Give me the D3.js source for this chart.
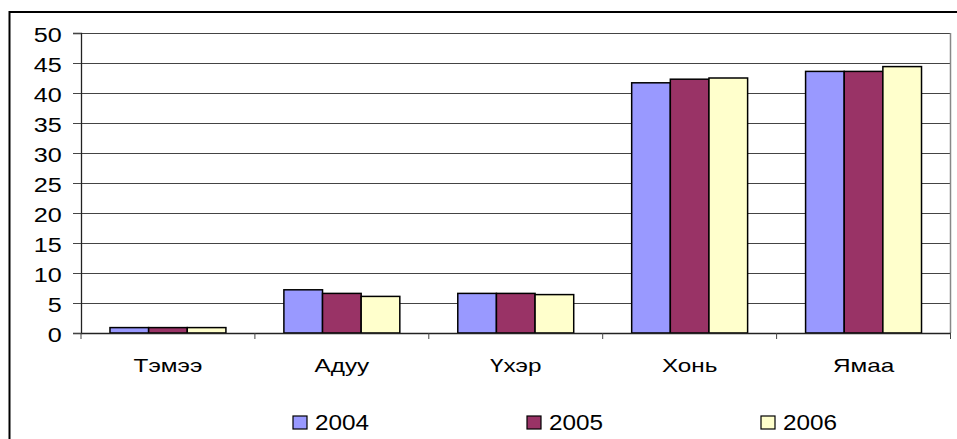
<!DOCTYPE html>
<html>
<head>
<meta charset="utf-8">
<script src="https://cdn.jsdelivr.net/npm/d3@7"></script>
<style>
  body { margin: 0; background: #fff; }
  text { font-family: "Liberation Sans", Arial, sans-serif; }
</style>
</head>
<body>
<div id="chart"></div>
<script>
const categories = ["Тэмээ", "Адуу", "Үхэр", "Хонь", "Ямаа"];
const years = ["2004", "2005", "2006"];
const v2004 = [0.9, 7.2, 6.6, 41.7, 43.6];
const v2005 = [0.9, 6.6, 6.6, 42.3, 43.6];
const v2006 = [0.9, 6.1, 6.4, 42.5, 44.4];
const yTicks = [0, 5, 10, 15, 20, 25, 30, 35, 40, 45, 50];
const colors = ["#9999FF", "#993366", "#FFFFCC"];

const series = [v2004, v2005, v2006];
const data = categories.map((c, i) => ({cat: c, vals: series.map(s => s[i])}));

const width = 957, height = 439;
const plot = {left: 81, right: 950.5, top: 33, bottom: 333};

const svg = d3.select("#chart").append("svg")
    .attr("width", width)
    .attr("height", height);

// outer chart border (right and bottom edges fall outside the picture)
svg.append("rect")
    .attr("x", 9.5).attr("y", 12)
    .attr("width", 960).attr("height", 440)
    .attr("fill", "white")
    .attr("stroke", "black")
    .attr("stroke-width", 2);

const x = d3.scaleBand()
    .domain(categories)
    .range([plot.left, plot.right])
    .paddingInner(0).paddingOuter(0);

// bars take 3/(3+1.5) of the category width (gap width 150%)
const groupW = x.bandwidth() * 3 / 4.5;
const x1 = d3.scaleBand()
    .domain(years)
    .range([0, groupW]);

const y = d3.scaleLinear()
    .domain([0, 50])
    .range([plot.bottom, plot.top]);

// gridlines
svg.append("g")
    .selectAll("line")
    .data(yTicks.filter(d => d > 0))
    .enter()
    .append("line")
    .attr("x1", plot.left).attr("x2", plot.right)
    .attr("y1", d => Math.round(y(d)) + 0.5)
    .attr("y2", d => Math.round(y(d)) + 0.5)
    .attr("stroke", "#444")
    .attr("stroke-width", 1.2);

// plot area right border
svg.append("line")
    .attr("x1", plot.right).attr("x2", plot.right)
    .attr("y1", plot.top).attr("y2", plot.bottom)
    .attr("stroke", "#888")
    .attr("stroke-width", 1.5);

// bars
const groups = svg.append("g")
    .selectAll("g")
    .data(data)
    .enter()
    .append("g")
    .attr("transform", d => `translate(${x(d.cat) + (x.bandwidth() - groupW) / 2},0)`);

groups.selectAll("rect")
    .data(d => d.vals.map((v, i) => ({year: years[i], v: v, i: i})))
    .enter()
    .append("rect")
    .attr("x", d => x1(d.year))
    .attr("y", d => y(d.v))
    .attr("width", x1.bandwidth())
    .attr("height", d => y(0) - y(d.v))
    .attr("fill", d => colors[d.i])
    .attr("stroke", "black")
    .attr("stroke-width", 1.5);

// y axis
const yAxis = svg.append("g")
    .attr("transform", `translate(${plot.left},0)`)
    .call(d3.axisLeft(y).tickValues(yTicks).tickSize(8));
yAxis.select(".domain").attr("stroke", "#222").attr("stroke-width", 1.3);
yAxis.selectAll(".tick line").attr("stroke", "#444");
yAxis.selectAll("text")
    .attr("font-size", "21px")
    .attr("fill", "black")
    .attr("x", -16)
    .attr("dy", "0.4em")
    .attr("transform", "scale(1.2,1)");

// x axis
const xAxis = svg.append("g")
    .attr("transform", `translate(0,${plot.bottom})`)
    .call(d3.axisBottom(x).tickSize(0));
xAxis.select(".domain").attr("stroke", "#222").attr("stroke-width", 1.3);
xAxis.selectAll("text")
    .attr("font-size", "19px")
    .attr("fill", "black")
    .attr("y", 39)
    .attr("dy", 0)
    .attr("transform", "scale(1.28,1)");

// category boundary ticks
svg.append("g")
    .selectAll("line")
    .data(d3.range(categories.length + 1))
    .enter()
    .append("line")
    .attr("x1", i => plot.left + i * x.bandwidth())
    .attr("x2", i => plot.left + i * x.bandwidth())
    .attr("y1", plot.bottom).attr("y2", plot.bottom + 6)
    .attr("stroke", "#444");

// legend
const legendX = [293, 527, 761];
const legend = svg.append("g")
    .selectAll("g")
    .data(years)
    .enter()
    .append("g")
    .attr("transform", (d, i) => `translate(${legendX[i]},416)`);

legend.append("rect")
    .attr("width", 14).attr("height", 13)
    .attr("fill", (d, i) => colors[i])
    .attr("stroke", "black")
    .attr("stroke-width", 1.2);

legend.append("text")
    .attr("transform", "translate(22,14) scale(1.13,1)")
    .attr("font-size", "21.5px")
    .text(d => d);
</script>
</body>
</html>
